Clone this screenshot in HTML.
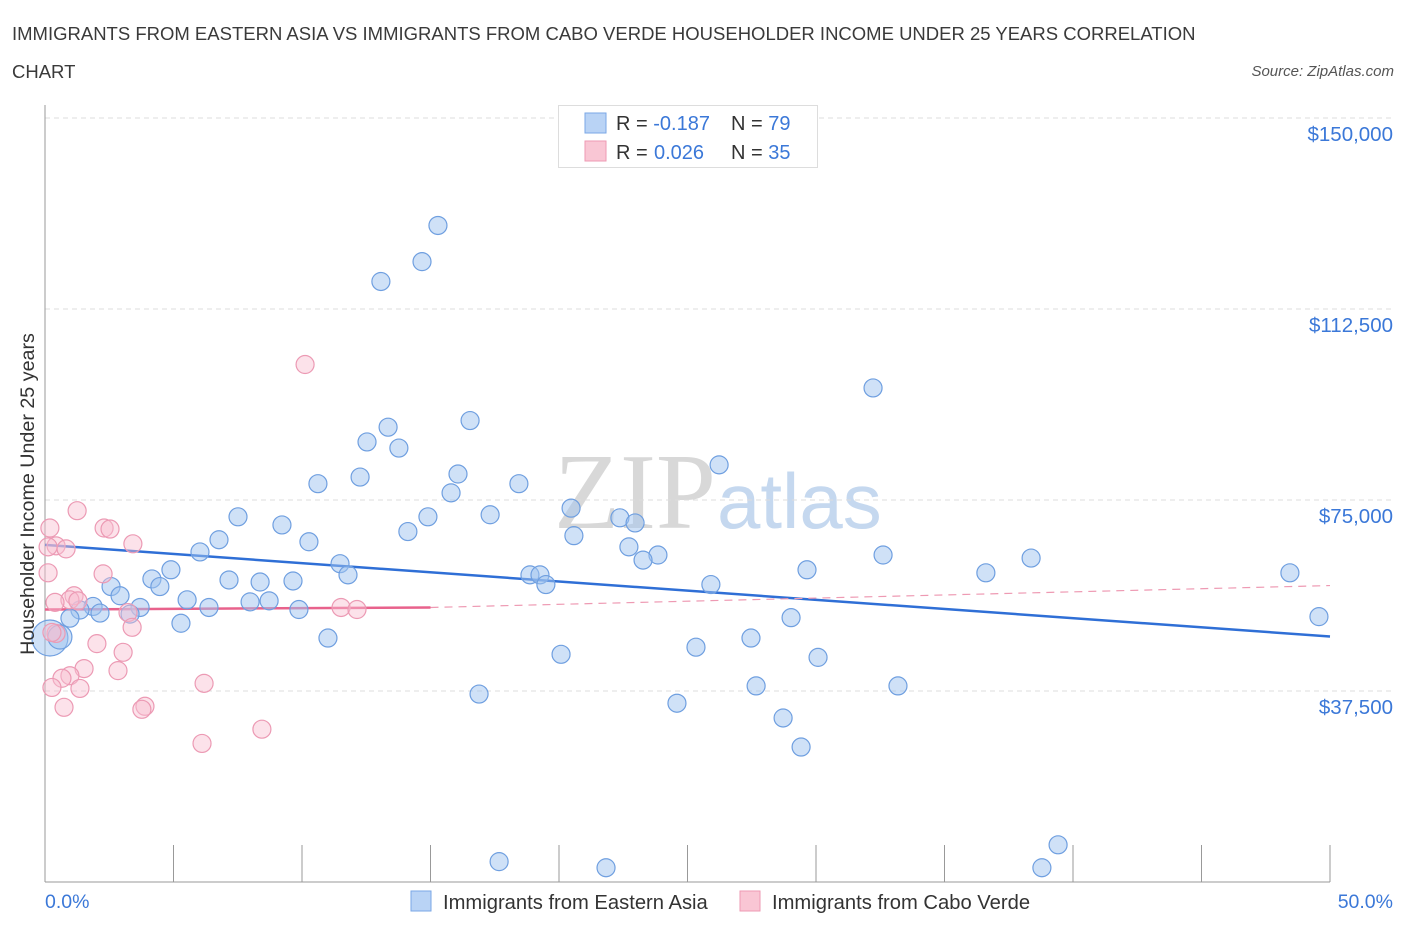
<!DOCTYPE html>
<html><head><meta charset="utf-8"><style>
body{margin:0;background:#fff;font-family:"Liberation Sans",sans-serif;}
svg{display:block}
</style></head><body>
<svg id="chart" width="1406" height="930" xmlns="http://www.w3.org/2000/svg">
<text x="12" y="40" font-size="18.5" fill="#3a3a3a">IMMIGRANTS FROM EASTERN ASIA VS IMMIGRANTS FROM CABO VERDE HOUSEHOLDER INCOME UNDER 25 YEARS CORRELATION</text>
<text x="12" y="78" font-size="18.5" fill="#3a3a3a">CHART</text>
<text x="1394" y="76" font-size="15" fill="#555" font-style="italic" text-anchor="end">Source: ZipAtlas.com</text>
<text x="716" y="528" font-size="108" fill="#d8d8d8" text-anchor="end" font-family="Liberation Serif,serif">ZIP</text>
<text x="717" y="528" font-size="78" fill="#c5d8ef">atlas</text>
<g id="grid"></g><g id="axes"></g><g id="trends"></g><g id="pts"></g>
<text transform="translate(34,494) rotate(-90)" font-size="19.7" fill="#333" text-anchor="middle">Householder Income Under 25 years</text>
<text x="45" y="908" font-size="19.5" fill="#3b78d8">0.0%</text>
<text x="1393" y="908" font-size="19.5" fill="#3b78d8" text-anchor="end">50.0%</text>
<g>
<rect x="558.5" y="105.5" width="259" height="62" fill="#fff" stroke="#ddd"/>
<rect x="585" y="113" width="21" height="20" fill="#b9d3f5" stroke="#7aa7e6"/>
<rect x="585" y="141" width="21" height="20" fill="#f9c6d4" stroke="#ee9ab3"/>
<text x="616" y="130" font-size="20" fill="#333">R = <tspan fill="#3b78d8">-0.187</tspan><tspan x="731">N = </tspan><tspan fill="#3b78d8">79</tspan></text>
<text x="616" y="159" font-size="20" fill="#333">R = <tspan fill="#3b78d8" x="654">0.026</tspan><tspan x="731">N = </tspan><tspan fill="#3b78d8">35</tspan></text>
</g>
<g>
<rect x="411" y="891" width="20" height="20" fill="#b9d3f5" stroke="#7aa7e6"/>
<text x="443" y="909" font-size="20.2" fill="#333">Immigrants from Eastern Asia</text>
<rect x="740" y="891" width="20" height="20" fill="#f9c6d4" stroke="#ee9ab3"/>
<text x="772" y="909" font-size="20.2" fill="#333">Immigrants from Cabo Verde</text>
</g>
</svg>
<script>
const yTicks=[37500,75000,112500,150000];
const yTickLabels=["$37,500","$75,000","$112,500","$150,000"];
const blueX=[15.29,14.67,13.07,32.22,16.54,13.35,12.53,13.77,26.23,16.07,12.26,10.62,18.44,15.80,20.47,7.51,14.90,17.32,22.37,22.96,9.22,14.12,6.77,20.58,10.27,22.72,6.03,23.85,32.61,38.37,23.27,11.48,4.90,11.79,29.65,18.87,19.26,36.61,48.44,4.16,7.16,8.37,9.65,19.49,25.91,4.47,2.57,2.92,5.53,7.98,8.72,3.70,6.38,9.88,1.87,2.14,1.36,3.31,29.03,49.57,5.29,0.97,11.01,27.47,0.19,0.58,25.33,20.08,30.08,27.67,33.19,16.89,24.59,28.72,29.42,39.42,17.67,21.83,38.79];
const blueY=[128.9,121.8,117.9,97.0,90.6,89.3,86.4,85.2,81.9,80.1,79.5,78.2,78.2,76.4,73.4,71.7,71.7,72.1,71.5,70.5,70.1,68.8,67.2,68.0,66.8,65.8,64.8,64.2,64.2,63.6,63.2,62.5,61.3,60.3,61.3,60.3,60.3,60.7,60.7,59.5,59.3,58.9,59.1,58.4,58.4,58.0,58.0,56.2,55.4,55.0,55.2,53.9,53.9,53.5,54.1,52.8,53.4,52.6,51.9,52.1,50.8,51.8,47.9,47.9,47.9,48.1,46.1,44.7,44.1,38.5,38.5,36.9,35.1,32.2,26.5,7.3,4.0,2.8,2.8];
const blueR=[11,11,11,11,11,11,11,11,11,11,11,11,11,11,11,11,11,11,11,11,11,11,11,11,11,11,11,11,11,11,11,11,11,11,11,11,11,11,11,11,11,11,11,11,11,11,11,11,11,11,11,11,11,11,11,11,11,11,11,11,11,11,11,11,20,14,11,11,11,11,11,11,11,11,11,11,11,11,11];
const pinkX=[10.12,1.25,0.19,2.30,2.53,3.42,0.43,0.82,0.12,2.26,1.13,0.97,0.39,3.23,11.52,12.14,3.39,0.43,2.02,3.04,1.52,2.84,0.97,0.66,6.19,0.27,1.36,0.74,3.89,3.77,8.44,6.11,1.28,0.27,0.12];
const pinkY=[101.6,72.9,69.5,69.5,69.3,66.4,66.0,65.4,60.7,60.5,56.2,55.4,54.9,52.9,53.9,53.5,50.0,48.8,46.8,45.1,41.9,41.5,40.5,40.0,39.0,38.2,38.0,34.3,34.5,33.9,30.0,27.2,55.2,49.0,65.8];
const blueTrend=[[0,66.2],[50,48.2]];
const pinkTrend=[[0,53.5],[15,53.9],[50,58.2]];
const X0=45,X1=1330,YB=882,PXK=191/37.5;
const sx=p=>X0+(X1-X0)*p/50, sy=v=>YB-v*PXK;
const NS="http://www.w3.org/2000/svg";
function mk(t,a,parent){const e=document.createElementNS(NS,t);for(const k in a)e.setAttribute(k,a[k]);document.getElementById(parent).appendChild(e);return e;}
yTicks.forEach((v,i)=>{
 const l=mk('line',{x1:X0,x2:1393,y1:sy(v/1000),y2:sy(v/1000),stroke:'#ddd','stroke-dasharray':'5,4'},'grid');
 
 
 const t=mk('text',{x:1393,y:sy(v/1000)+23,'font-size':20.5,fill:'#3b78d8','text-anchor':'end'},'grid');
 t.textContent=yTickLabels[i];
 
 
});
let a=mk('line',{x1:X0,x2:X0,y1:105,y2:YB,stroke:'#999'},'axes');


a=mk('line',{x1:X0,x2:X1,y1:YB,y2:YB,stroke:'#999'},'axes');


for(let i=0;i<=10;i++){const t=mk('line',{x1:sx(i*5),x2:sx(i*5),y1:845,y2:YB,stroke:'#999'},'axes');
 
 }
blueX.forEach((x,i)=>{const c=mk('circle',{cx:sx(x),cy:sy(blueY[i]),r:blueR[i]-2,fill:'rgba(160,196,240,0.5)',stroke:'#6f9fe0','stroke-width':1.2},'pts');
 
 });
pinkX.forEach((x,i)=>{const c=mk('circle',{cx:sx(x),cy:sy(pinkY[i]),r:9,fill:'rgba(248,190,208,0.45)',stroke:'#ec9ab4','stroke-width':1.2},'pts');
 
 });
let t=mk('line',{x1:sx(blueTrend[0][0]),y1:sy(blueTrend[0][1]),x2:sx(blueTrend[1][0]),y2:sy(blueTrend[1][1]),stroke:'#2f6fd6','stroke-width':2.5},'trends');


t=mk('line',{x1:sx(pinkTrend[0][0]),y1:sy(pinkTrend[0][1]),x2:sx(pinkTrend[1][0]),y2:sy(pinkTrend[1][1]),stroke:'#e8628c','stroke-width':2.5},'trends');


t=mk('line',{x1:sx(pinkTrend[1][0]),y1:sy(pinkTrend[1][1]),x2:sx(pinkTrend[2][0]),y2:sy(pinkTrend[2][1]),stroke:'#ee9ab3','stroke-width':1.2,'stroke-dasharray':'8,6'},'trends');


</script>
</body></html>
